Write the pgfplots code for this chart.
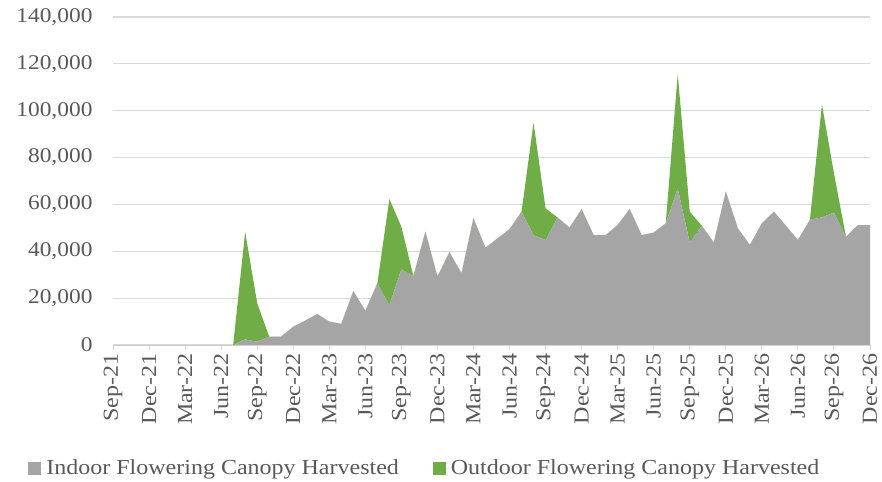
\documentclass[border=0pt]{standalone}
\usepackage{fontspec}
\setmainfont{Liberation Serif}[FakeStretch=1.12]
\usepackage{pgfplots}
\pgfplotsset{compat=1.18}
\usepackage{pgfplotstable}
\definecolor{indoor}{HTML}{A5A5A5}
\definecolor{outdoor}{HTML}{70AD47}
\definecolor{txt}{HTML}{595959}
\definecolor{gridc}{HTML}{D9D9D9}
\pgfplotstableread{
i indoor outdoor
0 0 0
1 0 0
2 0 0
3 0 0
4 0 0
5 0 0
6 0 0
7 0 0
8 0 0
9 0 0
10 0 0
11 2400 45900
12 1400 16500
13 3600 0
14 3600 0
15 7800 0
16 10400 0
17 13200 0
18 10000 0
19 9000 0
20 23000 0
21 14600 0
22 26300 0
23 17000 45300
24 32300 18200
25 29400 0
26 48400 0
27 29200 0
28 39600 0
29 30600 0
30 54100 0
31 41500 0
32 45500 0
33 49400 0
34 56900 0
35 46900 48000
36 44800 13500
37 54400 0
38 50100 0
39 58000 0
40 46900 0
41 46900 0
42 51200 0
43 58000 0
44 46900 0
45 48000 0
46 51900 0
47 66800 48900
48 43700 13200
49 50900 0
50 43700 0
51 65500 0
52 49800 0
53 42700 0
54 51900 0
55 56900 0
56 50900 0
57 44800 0
58 53400 0
59 54500 48200
60 56500 16800
61 46200 0
62 51200 0
63 51200 0
}\datatable
\begin{document}
\begin{tikzpicture}
\path[use as bounding box] (-113bp,-137bp) rectangle (769bp,345bp);
\begin{axis}[
  at={(0,0)}, anchor=south west,
  scale only axis, width=757bp, height=328bp,
  xmin=0, xmax=63, ymin=0, ymax=140000,
  stack plots=y,
  axis x line*=bottom, axis y line*=left,
  y axis line style={draw=none},
  x axis line style={draw=gridc, line width=1pt},
  xtick={0,3,...,63},
  xticklabels={Sep-21,Dec-21,Mar-22,Jun-22,Sep-22,Dec-22,Mar-23,Jun-23,Sep-23,Dec-23,Mar-24,Jun-24,Sep-24,Dec-24,Mar-25,Jun-25,Sep-25,Dec-25,Mar-26,Jun-26,Sep-26,Dec-26},
  x tick label style={rotate=90, anchor=east, font=\fontsize{21.5}{22}\selectfont, text=txt},
  xtick style={draw=gridc, line width=1pt},
  tick align=outside,
  major tick length=5bp,
  ytick={0,20000,...,140000},
  ytick style={draw=none},
  y tick label style={font=\fontsize{21}{22}\selectfont, text=txt, xshift=-12bp},
  scaled y ticks=false,
  yticklabel style={/pgf/number format/.cd, fixed, 1000 sep={,}, assume math mode=true},
  ymajorgrids, grid style={gridc, line width=1.2pt},
  legend style={at={(0.412,-0.375)}, anchor=center, draw=none, legend columns=2,
    font=\fontsize{21.5}{22}\selectfont, text=txt,
    /tikz/every even column/.append style={column sep=32bp}},
  legend cell align=left,
  legend image code/.code={\fill[#1] (0bp,-6.5bp) rectangle (13bp,6.5bp); \path (0bp,0bp) -- (16bp,0bp);},
]
\addplot[fill=indoor, draw=none] table[x=i, y=indoor] {\datatable} \closedcycle;
\addlegendentry{Indoor Flowering Canopy Harvested}
\addplot[fill=outdoor, draw=none] table[x=i, y=outdoor] {\datatable} \closedcycle;
\addlegendentry{Outdoor Flowering Canopy Harvested}
\end{axis}
\end{tikzpicture}
\end{document}
